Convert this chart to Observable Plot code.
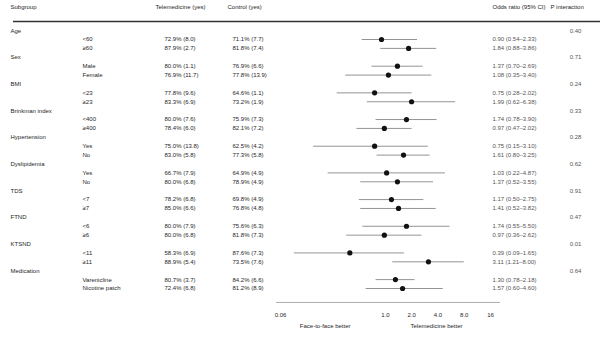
<!DOCTYPE html>
<html><head><meta charset="utf-8">
<script src="https://cdn.jsdelivr.net/npm/d3@7"></script>
<script src="https://cdn.jsdelivr.net/npm/@observablehq/plot@0.6"></script>
<style>body{margin:0;background:#fff;}</style>
</head><body><div id="chart"></div>
<script>
const headers = ["Subgroup", "Telemedicine (yes)", "Control (yes)", "Odds ratio (95% CI)", "P interaction"];
const groups = ["Age", "Sex", "BMI", "Brinkman index", "Hypertension", "Dyslipidemia", "TDS", "FTND", "KTSND", "Medication"];
const subgroups = ["<60", "≥60", "Male", "Female", "<23", "≥23", "<400", "≥400", "Yes", "No", "Yes", "No", "<7", "≥7", "<6", "≥6", "<11", "≥11", "Varenicline", "Nicotine patch"];
const telemedicine = ["72.9% (8.0)", "87.9% (2.7)", "80.0% (1.1)", "76.9% (11.7)", "77.8% (9.6)", "83.3% (6.9)", "80.0% (7.6)", "78.4% (6.0)", "75.0% (13.8)", "83.0% (5.8)", "66.7% (7.9)", "80.0% (6.8)", "78.2% (6.8)", "85.0% (6.6)", "80.0% (7.9)", "80.0% (6.8)", "58.3% (6.9)", "88.9% (5.4)", "80.7% (3.7)", "72.4% (6.8)"];
const control = ["71.1% (7.7)", "81.8% (7.4)", "76.9% (6.6)", "77.8% (13.9)", "64.6% (1.1)", "73.2% (1.9)", "75.9% (7.3)", "82.1% (7.2)", "62.5% (4.2)", "77.3% (5.8)", "64.9% (4.9)", "78.9% (4.9)", "69.8% (4.9)", "76.8% (4.8)", "75.6% (6.3)", "81.8% (7.3)", "87.6% (7.3)", "73.5% (7.6)", "84.2% (6.6)", "81.2% (8.9)"];
const oddsRatio = [0.90, 1.84, 1.37, 1.08, 0.75, 1.99, 1.74, 0.97, 0.75, 1.61, 1.03, 1.37, 1.17, 1.41, 1.74, 0.97, 0.39, 3.11, 1.30, 1.57];
const ciLow =     [0.54, 0.88, 0.70, 0.35, 0.28, 0.62, 0.78, 0.47, 0.15, 0.80, 0.22, 0.52, 0.50, 0.52, 0.55, 0.36, 0.09, 1.21, 0.78, 0.60];
const ciHigh =    [2.33, 3.86, 2.69, 3.40, 2.02, 6.38, 3.90, 2.02, 3.10, 3.25, 4.87, 3.55, 2.75, 3.82, 5.50, 2.62, 1.65, 8.00, 2.18, 4.60];
const pInteraction = ["0.40", "0.71", "0.24", "0.33", "0.28", "0.62", "0.91", "0.47", "0.01", "0.64"];
const axisTicks = [1/16, 1, 2, 4, 8, 16];
const axisTickLabels = ["0.06", "1.0", "2.0", "4.0", "8.0", "16"];
const favourLabels = ["Face-to-face better", "Telemedicine better"];

// build table rows: group header row, then two subgroup rows
const groupRows = groups.map((g, i) => ({idx: i * 3, label: g, p: pInteraction[i]}));
const subRows = subgroups.map((s, j) => ({
  idx: Math.floor(j / 2) * 3 + 1 + (j % 2),
  label: s, tele: telemedicine[j], ctrl: control[j],
  or: oddsRatio[j], lo: ciLow[j], hi: ciHigh[j],
  orText: `${d3.format(".2f")(oddsRatio[j])} (${d3.format(".2f")(ciLow[j])}–${d3.format(".2f")(ciHigh[j])})`
}));
const lastRow = groups.length * 3 - 1;
const headerRow = -2.6;
const headerLine = -1.03;
const axisRow = lastRow + 1.57;

const col = {group: 10, sub: 82, teleHead: 155, tele: 164, ctrlHead: 227, ctrl: 232, orText: 492, orHead: 492, p: 575, pHead: 550};
const txt = "#262626";

const chart = Plot.plot({
  width: 608, height: 340,
  marginTop: 0, marginBottom: 0, marginLeft: 0, marginRight: 0,
  style: {fontFamily: "'Liberation Sans', Arial, sans-serif", fontSize: "6px", background: "#fff", color: txt},
  x: {type: "log", domain: [1/16, 16], range: [280, 490], axis: null},
  y: {type: "linear", domain: [headerRow, lastRow], range: [7, 288], axis: null},
  marks: [
    // header
    Plot.text([headers[0]], {y: () => headerRow, text: d => d, frameAnchor: "left", dx: col.group, textAnchor: "start", fill: txt}),
    Plot.text([headers[1]], {y: () => headerRow, text: d => d, frameAnchor: "left", dx: col.teleHead, textAnchor: "start", fill: txt}),
    Plot.text([headers[2]], {y: () => headerRow, text: d => d, frameAnchor: "left", dx: col.ctrlHead, textAnchor: "start", fill: txt}),
    Plot.text([headers[3]], {y: () => headerRow, text: d => d, frameAnchor: "left", dx: col.orHead, textAnchor: "start", fill: txt}),
    Plot.text([headers[4]], {y: () => headerRow, text: d => d, frameAnchor: "left", dx: col.pHead, textAnchor: "start", fill: txt}),
    Plot.ruleY([headerLine], {stroke: "#333", strokeWidth: 1.4, insetLeft: 13, insetRight: 8}),
    // group rows
    Plot.text(groupRows, {y: "idx", text: "label", frameAnchor: "left", dx: col.group, textAnchor: "start", fill: txt}),
    Plot.text(groupRows, {y: "idx", text: "p", frameAnchor: "left", dx: col.p, textAnchor: "middle", fill: "#555"}),
    // subgroup rows
    Plot.text(subRows, {y: "idx", text: "label", frameAnchor: "left", dx: col.sub, textAnchor: "start", fill: txt}),
    Plot.text(subRows, {y: "idx", text: "tele", frameAnchor: "left", dx: col.tele, textAnchor: "start", fill: txt}),
    Plot.text(subRows, {y: "idx", text: "ctrl", frameAnchor: "left", dx: col.ctrl, textAnchor: "start", fill: txt}),
    Plot.text(subRows, {y: "idx", text: "orText", frameAnchor: "left", dx: col.orText, textAnchor: "start", fill: "#555"}),
    // forest
    Plot.ruleY(subRows, {y: "idx", x1: "lo", x2: "hi", stroke: "#666", strokeWidth: 0.7}),
    Plot.dot(subRows, {x: "or", y: "idx", r: 2.6, fill: "#111", stroke: "none"}),
    // axis
    Plot.ruleY([axisRow], {x1: () => 1/16, x2: () => 16, stroke: "#999", strokeWidth: 0.8, insetLeft: -4, insetRight: -10}),
    Plot.text(axisTicks, {x: d => d, text: (d, i) => axisTickLabels[i], frameAnchor: "bottom", dy: -24, fill: txt}),
    Plot.text([favourLabels[0]], {x: () => 1, text: d => d, frameAnchor: "bottom", dy: -13, dx: -35, textAnchor: "end", fill: txt}),
    Plot.text([favourLabels[1]], {x: () => 1, text: d => d, frameAnchor: "bottom", dy: -13, dx: 25, textAnchor: "start", fill: txt})
  ]
});
document.getElementById("chart").appendChild(chart);
</script>
</body></html>
